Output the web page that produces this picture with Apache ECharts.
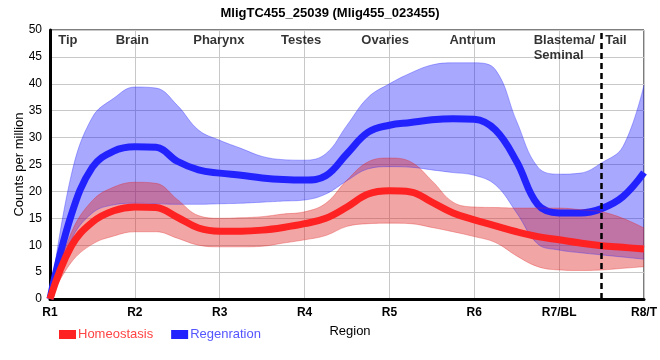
<!DOCTYPE html>
<html>
<head>
<meta charset="utf-8">
<script src="https://cdn.jsdelivr.net/npm/echarts@6/dist/echarts.min.js"></script>
<style>html,body{margin:0;padding:0;background:#fff;}#c{width:660px;height:360px;}</style>
</head>
<body>
<div id="c"></div>
<script>
// ---- data ----
var categories = ['R1','R2','R3','R4','R5','R6','R7/BL','R8/T'];
var xs = [1,1.25,1.5,1.75,2,2.25,2.5,2.75,3,3.25,3.5,3.75,4,4.25,4.5,4.75,5,5.25,5.5,5.75,6,6.25,6.5,6.75,7,7.25,7.5,7.75,8];
var regMean = [0,15.6,24.5,27.5,28.3,28.2,25.6,24,23.4,23,22.5,22.2,22.1,22.9,27,31,32.3,32.8,33.3,33.5,33.4,31.4,25.5,17.5,16,16,16.8,19,23.5];
var regHigh = [0,23,33.8,37.3,39.4,39.2,36,31.4,29.5,28,26.5,25.9,25.8,27,32.3,37.5,40,42,43.5,43.9,43.9,42.6,33,24.5,23.2,23.4,25.3,28.3,39.8];
var regLow  = [0,11,16,17.5,17.8,17.7,17.6,17.6,17.7,17.8,18,18.2,18.4,19.5,22,24.2,24.6,24.5,24,23.5,23,21.2,16,10.2,9.1,8.6,8.2,7.8,7.4];
var homMean = [0,9.8,14.3,16.4,17.1,17,15.2,13.2,12.6,12.6,12.8,13.3,14,15,17.1,19.5,20.1,19.9,18,16,14.7,13.6,12.5,11.6,11,10.4,9.9,9.6,9.3];
var homHigh = [0,12.3,18.3,20.8,21.7,21.5,18.5,15.5,15,15.1,15.3,15.8,16.2,17.8,22.1,25.5,26.2,25.5,22,18,17.1,17,16.9,16.9,16.9,16.6,16.2,15,13.2];
var homLow  = [0,6.8,10.2,11.7,12.5,12.5,11.3,10,9.7,9.7,9.8,10.4,11,11.8,13.5,14,14.1,14,13.3,12.5,11.6,10.5,8,6,5.4,5.3,5.4,5.7,6];
var regionNames = ['Tip','Brain','Pharynx','Testes','Ovaries','Antrum','Blastema/\nSeminal','Tail'];
var regionPos = [1.21,1.97,2.99,3.96,4.95,5.98,6.7,7.67];
var dividerAt = 7.5;
var yTicks = {min:0, max:50, step:5};

function diffs(hi, lo){ return hi.map(function(v,i){ return +(v-lo[i]).toFixed(3); }); }

var chart = echarts.init(document.getElementById('c'), null, {renderer:'canvas'});
var font = 'Liberation Sans, Arial, sans-serif';
var SM = 0.4;
var bandLine = function(c){ return {color: c, width: 1}; };

var option = {
  animation: false,
  title: {
    text: 'MligTC455_25039 (Mlig455_023455)',
    left: 'center', top: 2,
    textStyle: {fontFamily: font, fontSize: 13, fontWeight: 'bold', color: '#000'}
  },
  legend: {
    left: 54, top: 323, itemWidth: 17, itemHeight: 9, itemGap: 18,
    icon: 'rect',
    data: [
      {name: 'Homeostasis', textStyle: {color: '#ff4444'}},
      {name: 'Regenration', textStyle: {color: '#5555ff'}}
    ],
    textStyle: {fontFamily: font, fontSize: 13, padding: [0,0,0,-3]}
  },
  grid: {left: 50, right: 10, top: 30, bottom: 61, show: true, borderColor: '#000', borderWidth: 1},
  xAxis: [{
    type: 'value', min: 1, max: 8, interval: 1,
    name: 'Region', nameLocation: 'middle', nameGap: 26, nameMoveOverlap: false,
    nameTextStyle: {fontFamily: font, fontSize: 13, color: '#000', padding: [0,0,0,6]},
    axisLine: {show: true, lineStyle: {color: '#000', width: 3}},
    axisTick: {show: false},
    axisLabel: {fontFamily: font, fontSize: 12, fontWeight: 'bold', color: '#000', margin: 8,
      formatter: function(v){ return categories[Math.round(v)-1] || ''; }},
    splitLine: {show: true, lineStyle: {color: '#c8c8c8', width: 1}}
  }, {
    type: 'category', data: xs.map(String), boundaryGap: false, show: false
  }],
  yAxis: {
    type: 'value', min: yTicks.min, max: yTicks.max, interval: yTicks.step,
    name: 'Counts per million', nameLocation: 'middle', nameGap: 24, nameMoveOverlap: false,
    nameTextStyle: {fontFamily: font, fontSize: 13, color: '#000'},
    axisLine: {show: true, lineStyle: {color: '#000', width: 3}},
    axisTick: {show: false},
    axisLabel: {fontFamily: font, fontSize: 12, color: '#000', margin: 8},
    splitLine: {show: true, lineStyle: {color: '#c8c8c8', width: 1}}
  },
  series: [
    {name: 'regLow', type: 'line', xAxisIndex: 1, stack: 'reg', data: regLow, smooth: SM, showSymbol: false, silent: true,
     lineStyle: bandLine('rgba(40,40,255,0.35)')},
    {name: 'regBand', type: 'line', xAxisIndex: 1, stack: 'reg', data: diffs(regHigh, regLow), smooth: SM, showSymbol: false, silent: true,
     lineStyle: bandLine('rgba(40,40,255,0.35)'), areaStyle: {color: 'rgba(0,0,255,0.34)', opacity: 1}},
    {name: 'Regenration', type: 'line', xAxisIndex: 1, data: regMean, smooth: SM, showSymbol: false,
     itemStyle: {color: '#2222ff'}, lineStyle: {color: '#2222ff', width: 7}},
    {name: 'homLow', type: 'line', xAxisIndex: 1, stack: 'hom', data: homLow, smooth: SM, showSymbol: false, silent: true,
     lineStyle: bandLine('rgba(225,40,40,0.35)')},
    {name: 'homBand', type: 'line', xAxisIndex: 1, stack: 'hom', data: diffs(homHigh, homLow), smooth: SM, showSymbol: false, silent: true,
     lineStyle: bandLine('rgba(225,40,40,0.35)'), areaStyle: {color: 'rgba(225,40,40,0.42)', opacity: 1}},
    {name: 'Homeostasis', type: 'line', xAxisIndex: 1, data: homMean, smooth: SM, showSymbol: false,
     itemStyle: {color: '#ff2222'}, lineStyle: {color: '#ff2222', width: 7}},
    {name: 'regions', type: 'scatter', xAxisIndex: 0, symbolSize: 0, silent: true,
     markLine: {silent: true, symbol: 'none', label: {show: false},
       lineStyle: {color: '#000', width: 2.5, type: [6,4]},
       data: [{xAxis: dividerAt}]},
     data: regionNames.map(function(n,i){
       var multi = n.indexOf('\n') >= 0;
       return {value: [regionPos[i], multi ? 49.4 : 48.1], name: n,
         label: multi ? {align: 'left', verticalAlign: 'top'} : {}};
     }),
     label: {show: true, position: 'inside', formatter: function(p){ return p.name; },
       fontFamily: font, fontSize: 13, fontWeight: 'bold', color: '#000', lineHeight: 15,
       align: 'center', verticalAlign: 'middle'}}
  ]
};
chart.setOption(option);
</script>
</body>
</html>
